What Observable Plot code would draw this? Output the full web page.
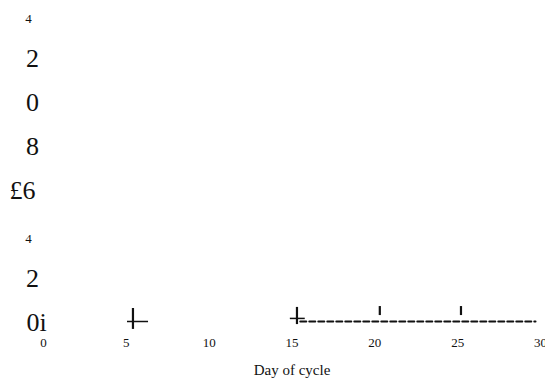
<!DOCTYPE html>
<html>
<head>
<meta charset="utf-8">
<script src="https://cdn.jsdelivr.net/npm/d3@7"></script>
<script src="https://cdn.jsdelivr.net/npm/@observablehq/plot@0.6"></script>
<style>
  html, body { margin: 0; padding: 0; background: #fff; }
  #chart svg { display: block; }
</style>
</head>
<body>
<div id="chart"></div>
<script>
// y-axis labels as they appear (value, text, small glyph?)
const yValues = [14, 12, 10, 8, 6, 4, 2, 0];
const yLabels = ["4", "2", "0", "8", "£6", "4", "2", "0i"];
const ySmall  = [true, false, false, false, false, true, false, false];

// x axis
const xTicks = [0, 5, 10, 15, 20, 25, 30];
const xTitle = "Day of cycle";

// dashed series near zero
const lineX = [15.5, 20.3, 25.2, 29.7];
const lineY = [0, 0, 0, 0];

// vertical bar marks
const barX    = [5.4, 15.3, 20.3, 25.2];
const barLow  = [-0.36, -0.14, 0.27, 0.27];
const barHigh = [0.59, 0.64, 0.68, 0.68];

// horizontal cap segments
const capX1 = [5.07, 14.9];
const capX2 = [6.34, 15.8];
const capY  = [0, 0.14];

const yRows = yValues.map((v, i) => ({y: v, label: yLabels[i], small: ySmall[i]}));
const lineData = lineX.map((x, i) => ({x, y: lineY[i]}));
const bars = barX.map((x, i) => ({x, y1: barLow[i], y2: barHigh[i]}));
const caps = capX1.map((x1, i) => ({x1, x2: capX2[i], y: capY[i]}));

const font = "'Liberation Serif', 'Times New Roman', serif";

const plot = Plot.plot({
  width: 545,
  height: 378,
  marginLeft: 43,
  marginRight: 5,
  marginTop: 13,
  marginBottom: 57,
  style: {fontFamily: font, background: "#fff", color: "#111"},
  x: {domain: [0, 30]},
  y: {domain: [0, 14], axis: null},
  marks: [
    Plot.axisX({
      ticks: xTicks,
      tickSize: 0,
      tickPadding: 16,
      fontSize: 13,
      label: null
    }),
    Plot.text([xTitle], {
      frameAnchor: "bottom", lineAnchor: "bottom", dy: 53,
      fontSize: 15, fill: "#111"
    }),
    // large single glyph labels
    Plot.text(yRows.filter(d => !d.small && d.label.length === 1), {
      x: 0, y: "y", text: "label", dx: -11, dy: 9,
      textAnchor: "middle", lineAnchor: "bottom",
      fontSize: 26, fill: "#111"
    }),
    Plot.text(yRows.filter(d => d.label === "£6"), {
      x: 0, y: "y", text: "label", dx: -8, dy: 9,
      textAnchor: "end", lineAnchor: "bottom",
      fontSize: 26, fill: "#111"
    }),
    Plot.text(yRows.filter(d => d.label === "0i"), {
      x: 0, y: "y", text: "label", dx: -17, dy: 9,
      textAnchor: "start", lineAnchor: "bottom",
      fontSize: 26, fill: "#111"
    }),
    // small labels
    Plot.text(yRows.filter(d => d.small), {
      x: 0, y: "y", text: "label", dx: -15, dy: 9,
      textAnchor: "middle", lineAnchor: "bottom",
      fontSize: 13, fill: "#111"
    }),
    Plot.line(lineData, {
      x: "x", y: "y", stroke: "#111", strokeWidth: 2, strokeDasharray: "6,3"
    }),
    Plot.ruleX(bars, {x: "x", y1: "y1", y2: "y2", stroke: "#111", strokeWidth: 2.2}),
    Plot.ruleY(caps, {y: "y", x1: "x1", x2: "x2", stroke: "#111", strokeWidth: 1.5})
  ]
});
document.getElementById("chart").appendChild(plot);
</script>
</body>
</html>
